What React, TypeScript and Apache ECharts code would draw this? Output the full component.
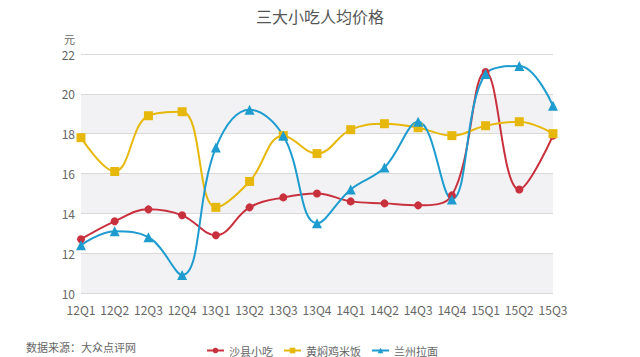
import React, { useEffect, useRef } from "react";
import * as echarts from "echarts";

const categories = ["12Q1", "12Q2", "12Q3", "12Q4", "13Q1", "13Q2", "13Q3", "13Q4", "14Q1", "14Q2", "14Q3", "14Q4", "15Q1", "15Q2", "15Q3"];
const shaxian = [12.7, 13.6, 14.2, 13.9, 12.9, 14.3, 14.8, 15.0, 14.6, 14.5, 14.4, 14.9, 21.1, 15.2, 17.9];
const huangmen = [17.8, 16.1, 18.9, 19.1, 14.3, 15.6, 17.9, 17.0, 18.2, 18.5, 18.3, 17.9, 18.4, 18.6, 18.0];
const lanzhou = [12.4, 13.1, 12.8, 10.9, 17.3, 19.2, 17.9, 13.5, 15.2, 16.3, 18.6, 14.7, 21.0, 21.4, 19.4];

const FONT = "'Noto Sans CJK SC', 'Noto Sans', sans-serif";

export default function App() {
  const ref = useRef<HTMLDivElement>(null);
  useEffect(() => {
    document.body.style.margin = "0";
    if (!ref.current) return;
    const chart = echarts.init(ref.current, undefined, { renderer: "svg" });
    const mk = (name: string, data: number[], color: string, symbol: string, size: number) => ({
      name,
      type: "line",
      data,
      smooth: 0.4,
      symbol,
      symbolSize: size,
      showAllSymbol: true,
      lineStyle: { color, width: 2 },
      itemStyle: { color },
    });
    chart.setOption({
      animation: false,
      backgroundColor: "#ffffff",
      textStyle: { fontFamily: FONT },
      title: {
        text: "三大小吃人均价格",
        left: "center",
        top: 3,
        textStyle: { fontSize: 16, fontWeight: "normal", color: "#555", fontFamily: FONT },
      },
      grid: { left: 81, right: 87, top: 54, bottom: 64, containLabel: false },
      legend: {
        left: 201,
        top: 340,
        itemWidth: 17,
        itemHeight: 7,
        itemGap: 10,
        textStyle: { fontSize: 11, color: "#666", fontFamily: FONT },
        data: ["沙县小吃", "黄焖鸡米饭", "兰州拉面"],
      },
      graphic: [
        {
          type: "text",
          left: 26,
          top: 341,
          style: { text: "数据来源：大众点评网", fontSize: 11, fill: "#666", fontFamily: FONT },
        },
      ],
      xAxis: {
        type: "category",
        data: categories,
        boundaryGap: false,
        axisLine: { show: false },
        axisTick: { show: false },
        axisLabel: { color: "#666", fontSize: 12, margin: 10, interval: 0 },
        splitLine: { show: false },
      },
      yAxis: {
        type: "value",
        min: 10,
        max: 22,
        interval: 2,
        name: "元",
        nameLocation: "end",
        nameGap: 10,
        nameTextStyle: { color: "#666", fontSize: 11, align: "right", padding: [0, 6, 0, 0] },
        axisLine: { show: false },
        axisTick: { show: false },
        axisLabel: { color: "#666", fontSize: 12, margin: 6 },
        splitLine: { lineStyle: { color: "#d9d9d9", width: 1 } },
        splitArea: { show: true, areaStyle: { color: ["#f2f2f4", "#ffffff"] } },
      },
      series: [
        mk("沙县小吃", shaxian, "#c9303e", "circle", 8),
        mk("黄焖鸡米饭", huangmen, "#e7b80c", "rect", 9),
        mk("兰州拉面", lanzhou, "#1e9ccf", "triangle", 10),
      ],
    });
    return () => chart.dispose();
  }, []);
  return <div ref={ref} style={{ width: 640, height: 357 }} />;
}
